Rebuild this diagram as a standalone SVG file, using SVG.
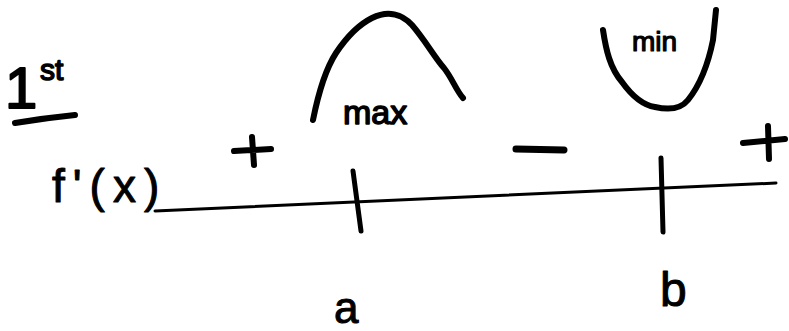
<svg xmlns="http://www.w3.org/2000/svg" width="789" height="331" viewBox="0 0 789 331">
<style>
.ink{fill:none;stroke:#000;stroke-linecap:round;stroke-linejoin:round}
.t{font-family:"Liberation Sans",sans-serif;fill:#000;stroke:#000;stroke-linejoin:round}
</style>
<rect width="789" height="331" fill="#fff"/>
<g id="title">
<text class="t" x="5" y="108" font-size="58" stroke-width="2">1</text>
<text class="t" x="40" y="80" font-size="30" stroke-width="1.5">st</text>
<path class="ink" d="M15 123 Q45 118 75 115" stroke-width="6"/>
</g>
<g id="fprime">
<text class="t" x="52" y="202" font-size="46" stroke-width="1" letter-spacing="8">f'(x)</text>
</g>
<g id="axis">
<path class="ink" d="M155 211 L776 183" stroke-width="3"/>
</g>
<g id="tick-a">
<path class="ink" d="M353 171 L361 231" stroke-width="5"/>
<text class="t" x="334" y="323" font-size="44" stroke-width="1">a</text>
</g>
<g id="tick-b">
<path class="ink" d="M661 158 L663 232" stroke-width="5"/>
<text class="t" x="660" y="306" font-size="48" stroke-width="1">b</text>
</g>
<g id="signs">
<path class="ink" d="M234 151 L271 149 M252 137 L254 165" stroke-width="6"/>
<path class="ink" d="M516 149 L564 150" stroke-width="7"/>
<path class="ink" d="M743 143 L785 139 M768 126 L769 159" stroke-width="6"/>
</g>
<g id="max">
<path class="ink" d="M313 120 C318 95 325 70 336 53 C346 38 358 25 372 18 C388 10 402 14 412 25 C425 40 435 58 444 68 C452 78 456 90 463 98" stroke-width="6"/>
<text class="t" x="343" y="124" font-size="34" stroke-width="1.5">max</text>
</g>
<g id="min">
<path class="ink" d="M603 30 C606 50 610 68 622 82 C632 96 642 105 655 107 C668 110 680 110 688 100 C700 85 708 65 713 40 L716 10" stroke-width="6"/>
<text class="t" x="632" y="51" font-size="28" stroke-width="1.2">min</text>
</g>
</svg>
